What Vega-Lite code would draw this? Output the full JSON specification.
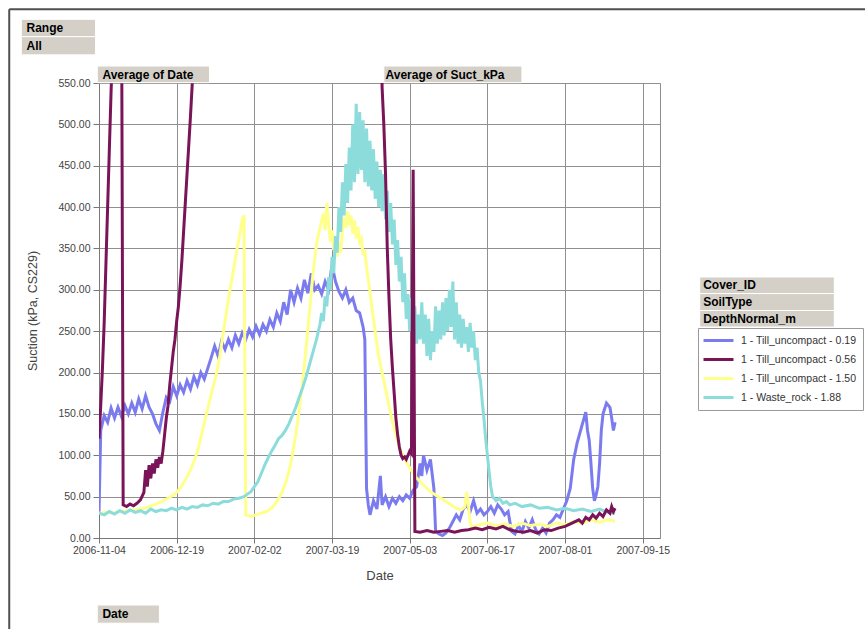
{
"$schema":"https://vega.github.io/schema/vega-lite/v6.json",
"width":561,"height":455,
"autosize":"none",
"padding":{"left":99,"top":83,"right":205,"bottom":91},
"background":"white",
"config":{
 "font":"Liberation Sans",
 "view":{"stroke":"#8c8c8c","strokeWidth":1},
 "axis":{"gridColor":"#909090","gridWidth":1,"gridOpacity":1,"domainColor":"#777777","tickColor":"#777777","labelColor":"#444444","titleColor":"#444444","labelFont":"Liberation Sans","titleFont":"Liberation Sans","titleFontWeight":"normal","labelFontSize":10.5,"titleFontSize":12.5}
},
"datasets":{"suction":[
{"k":"0.19","d":"2006-11-04","v":30},{"k":"0.19","d":"2006-11-05","v":130},{"k":"0.19","d":"2006-11-07","v":148},{"k":"0.19","d":"2006-11-09","v":140},{"k":"0.19","d":"2006-11-11","v":157},{"k":"0.19","d":"2006-11-13","v":145},{"k":"0.19","d":"2006-11-15","v":158},{"k":"0.19","d":"2006-11-17","v":147},{"k":"0.19","d":"2006-11-19","v":160},{"k":"0.19","d":"2006-11-21","v":150},{"k":"0.19","d":"2006-11-23","v":163},{"k":"0.19","d":"2006-11-25","v":152},{"k":"0.19","d":"2006-11-27","v":168},{"k":"0.19","d":"2006-11-29","v":156},{"k":"0.19","d":"2006-12-01","v":172},{"k":"0.19","d":"2006-12-03","v":158},{"k":"0.19","d":"2006-12-05","v":150},{"k":"0.19","d":"2006-12-07","v":138},{"k":"0.19","d":"2006-12-09","v":130},{"k":"0.19","d":"2006-12-11","v":152},{"k":"0.19","d":"2006-12-13","v":170},{"k":"0.19","d":"2006-12-15","v":165},{"k":"0.19","d":"2006-12-17","v":183},{"k":"0.19","d":"2006-12-19","v":172},{"k":"0.19","d":"2006-12-21","v":185},{"k":"0.19","d":"2006-12-23","v":176},{"k":"0.19","d":"2006-12-25","v":190},{"k":"0.19","d":"2006-12-27","v":180},{"k":"0.19","d":"2006-12-29","v":195},{"k":"0.19","d":"2006-12-31","v":185},{"k":"0.19","d":"2007-01-02","v":200},{"k":"0.19","d":"2007-01-04","v":192},{"k":"0.19","d":"2007-01-06","v":205},{"k":"0.19","d":"2007-01-08","v":218},{"k":"0.19","d":"2007-01-10","v":232},{"k":"0.19","d":"2007-01-12","v":220},{"k":"0.19","d":"2007-01-14","v":238},{"k":"0.19","d":"2007-01-16","v":228},{"k":"0.19","d":"2007-01-18","v":240},{"k":"0.19","d":"2007-01-20","v":230},{"k":"0.19","d":"2007-01-22","v":245},{"k":"0.19","d":"2007-01-24","v":235},{"k":"0.19","d":"2007-01-26","v":248},{"k":"0.19","d":"2007-01-28","v":240},{"k":"0.19","d":"2007-01-30","v":252},{"k":"0.19","d":"2007-02-01","v":243},{"k":"0.19","d":"2007-02-03","v":256},{"k":"0.19","d":"2007-02-05","v":246},{"k":"0.19","d":"2007-02-07","v":258},{"k":"0.19","d":"2007-02-09","v":250},{"k":"0.19","d":"2007-02-11","v":264},{"k":"0.19","d":"2007-02-13","v":255},{"k":"0.19","d":"2007-02-15","v":272},{"k":"0.19","d":"2007-02-17","v":262},{"k":"0.19","d":"2007-02-19","v":285},{"k":"0.19","d":"2007-02-21","v":270},{"k":"0.19","d":"2007-02-23","v":300},{"k":"0.19","d":"2007-02-25","v":285},{"k":"0.19","d":"2007-02-27","v":302},{"k":"0.19","d":"2007-03-01","v":290},{"k":"0.19","d":"2007-03-03","v":312},{"k":"0.19","d":"2007-03-05","v":296},{"k":"0.19","d":"2007-03-07","v":320},{"k":"0.19","d":"2007-03-09","v":300},{"k":"0.19","d":"2007-03-11","v":305},{"k":"0.19","d":"2007-03-13","v":295},{"k":"0.19","d":"2007-03-15","v":310},{"k":"0.19","d":"2007-03-17","v":300},{"k":"0.19","d":"2007-03-19","v":330},{"k":"0.19","d":"2007-03-21","v":310},{"k":"0.19","d":"2007-03-23","v":298},{"k":"0.19","d":"2007-03-25","v":290},{"k":"0.19","d":"2007-03-27","v":300},{"k":"0.19","d":"2007-03-29","v":285},{"k":"0.19","d":"2007-03-31","v":290},{"k":"0.19","d":"2007-04-02","v":275},{"k":"0.19","d":"2007-04-04","v":272},{"k":"0.19","d":"2007-04-06","v":255},{"k":"0.19","d":"2007-04-07","v":240},{"k":"0.19","d":"2007-04-08","v":60},{"k":"0.19","d":"2007-04-09","v":40},{"k":"0.19","d":"2007-04-10","v":28},{"k":"0.19","d":"2007-04-12","v":45},{"k":"0.19","d":"2007-04-14","v":35},{"k":"0.19","d":"2007-04-16","v":75},{"k":"0.19","d":"2007-04-17","v":40},{"k":"0.19","d":"2007-04-19","v":50},{"k":"0.19","d":"2007-04-21","v":38},{"k":"0.19","d":"2007-04-23","v":48},{"k":"0.19","d":"2007-04-25","v":42},{"k":"0.19","d":"2007-04-27","v":50},{"k":"0.19","d":"2007-04-29","v":45},{"k":"0.19","d":"2007-05-01","v":52},{"k":"0.19","d":"2007-05-03","v":48},{"k":"0.19","d":"2007-05-05","v":58},{"k":"0.19","d":"2007-05-07","v":62},{"k":"0.19","d":"2007-05-09","v":90},{"k":"0.19","d":"2007-05-10","v":75},{"k":"0.19","d":"2007-05-11","v":100},{"k":"0.19","d":"2007-05-13","v":82},{"k":"0.19","d":"2007-05-15","v":95},{"k":"0.19","d":"2007-05-17","v":60},{"k":"0.19","d":"2007-05-18","v":8},{"k":"0.19","d":"2007-05-20","v":5},{"k":"0.19","d":"2007-05-22","v":3},{"k":"0.19","d":"2007-05-24","v":6},{"k":"0.19","d":"2007-05-26","v":12},{"k":"0.19","d":"2007-05-28","v":20},{"k":"0.19","d":"2007-05-30","v":28},{"k":"0.19","d":"2007-06-01","v":22},{"k":"0.19","d":"2007-06-03","v":35},{"k":"0.19","d":"2007-06-05","v":40},{"k":"0.19","d":"2007-06-07","v":32},{"k":"0.19","d":"2007-06-09","v":45},{"k":"0.19","d":"2007-06-11","v":30},{"k":"0.19","d":"2007-06-13","v":35},{"k":"0.19","d":"2007-06-15","v":28},{"k":"0.19","d":"2007-06-17","v":32},{"k":"0.19","d":"2007-06-19","v":38},{"k":"0.19","d":"2007-06-21","v":30},{"k":"0.19","d":"2007-06-23","v":40},{"k":"0.19","d":"2007-06-25","v":35},{"k":"0.19","d":"2007-06-27","v":28},{"k":"0.19","d":"2007-06-29","v":32},{"k":"0.19","d":"2007-07-01","v":8},{"k":"0.19","d":"2007-07-03","v":5},{"k":"0.19","d":"2007-07-05","v":15},{"k":"0.19","d":"2007-07-07","v":8},{"k":"0.19","d":"2007-07-09","v":20},{"k":"0.19","d":"2007-07-11","v":12},{"k":"0.19","d":"2007-07-13","v":22},{"k":"0.19","d":"2007-07-15","v":10},{"k":"0.19","d":"2007-07-17","v":5},{"k":"0.19","d":"2007-07-19","v":12},{"k":"0.19","d":"2007-07-21","v":6},{"k":"0.19","d":"2007-07-23","v":18},{"k":"0.19","d":"2007-07-25","v":22},{"k":"0.19","d":"2007-07-27","v":28},{"k":"0.19","d":"2007-07-29","v":25},{"k":"0.19","d":"2007-07-31","v":35},{"k":"0.19","d":"2007-08-02","v":45},{"k":"0.19","d":"2007-08-04","v":60},{"k":"0.19","d":"2007-08-06","v":95},{"k":"0.19","d":"2007-08-08","v":115},{"k":"0.19","d":"2007-08-10","v":130},{"k":"0.19","d":"2007-08-12","v":145},{"k":"0.19","d":"2007-08-13","v":152},{"k":"0.19","d":"2007-08-14","v":130},{"k":"0.19","d":"2007-08-15","v":118},{"k":"0.19","d":"2007-08-16","v":90},{"k":"0.19","d":"2007-08-17","v":60},{"k":"0.19","d":"2007-08-18","v":45},{"k":"0.19","d":"2007-08-19","v":52},{"k":"0.19","d":"2007-08-20","v":62},{"k":"0.19","d":"2007-08-21","v":90},{"k":"0.19","d":"2007-08-22","v":130},{"k":"0.19","d":"2007-08-23","v":150},{"k":"0.19","d":"2007-08-25","v":163},{"k":"0.19","d":"2007-08-27","v":158},{"k":"0.19","d":"2007-08-28","v":145},{"k":"0.19","d":"2007-08-29","v":130},{"k":"0.19","d":"2007-08-30","v":140},
{"k":"0.56","d":"2006-11-04","v":120},{"k":"0.56","d":"2006-11-05","v":160},{"k":"0.56","d":"2006-11-06","v":205},{"k":"0.56","d":"2006-11-07","v":260},{"k":"0.56","d":"2006-11-08","v":330},{"k":"0.56","d":"2006-11-09","v":400},{"k":"0.56","d":"2006-11-10","v":470},{"k":"0.56","d":"2006-11-11","v":540},{"k":"0.56","d":"2006-11-12","v":600},{"k":"0.56","d":"2006-11-16","v":700},{"k":"0.56","d":"2006-11-17","v":700},{"k":"0.56","d":"2006-11-18","v":40},{"k":"0.56","d":"2006-11-20","v":38},{"k":"0.56","d":"2006-11-22","v":41},{"k":"0.56","d":"2006-11-24","v":39},{"k":"0.56","d":"2006-11-26","v":42},{"k":"0.56","d":"2006-11-28","v":46},{"k":"0.56","d":"2006-11-30","v":55},{"k":"0.56","d":"2006-12-01","v":82},{"k":"0.56","d":"2006-12-02","v":62},{"k":"0.56","d":"2006-12-03","v":88},{"k":"0.56","d":"2006-12-04","v":72},{"k":"0.56","d":"2006-12-05","v":90},{"k":"0.56","d":"2006-12-06","v":78},{"k":"0.56","d":"2006-12-07","v":95},{"k":"0.56","d":"2006-12-08","v":85},{"k":"0.56","d":"2006-12-09","v":98},{"k":"0.56","d":"2006-12-10","v":90},{"k":"0.56","d":"2006-12-11","v":105},{"k":"0.56","d":"2006-12-12","v":125},{"k":"0.56","d":"2006-12-13","v":145},{"k":"0.56","d":"2006-12-14","v":160},{"k":"0.56","d":"2006-12-15","v":185},{"k":"0.56","d":"2006-12-16","v":205},{"k":"0.56","d":"2006-12-17","v":225},{"k":"0.56","d":"2006-12-18","v":240},{"k":"0.56","d":"2006-12-19","v":262},{"k":"0.56","d":"2006-12-20","v":280},{"k":"0.56","d":"2006-12-21","v":305},{"k":"0.56","d":"2006-12-22","v":335},{"k":"0.56","d":"2006-12-23","v":370},{"k":"0.56","d":"2006-12-24","v":405},{"k":"0.56","d":"2006-12-25","v":440},{"k":"0.56","d":"2006-12-26","v":475},{"k":"0.56","d":"2006-12-27","v":510},{"k":"0.56","d":"2006-12-28","v":548},{"k":"0.56","d":"2006-12-29","v":590},{"k":"0.56","d":"2006-12-31","v":700},{"k":"0.56","d":"2007-04-16","v":700},{"k":"0.56","d":"2007-04-17","v":545},{"k":"0.56","d":"2007-04-18","v":500},{"k":"0.56","d":"2007-04-19","v":440},{"k":"0.56","d":"2007-04-20","v":350},{"k":"0.56","d":"2007-04-21","v":290},{"k":"0.56","d":"2007-04-22","v":240},{"k":"0.56","d":"2007-04-23","v":205},{"k":"0.56","d":"2007-04-24","v":175},{"k":"0.56","d":"2007-04-25","v":145},{"k":"0.56","d":"2007-04-26","v":125},{"k":"0.56","d":"2007-04-27","v":110},{"k":"0.56","d":"2007-04-28","v":100},{"k":"0.56","d":"2007-04-29","v":96},{"k":"0.56","d":"2007-04-30","v":98},{"k":"0.56","d":"2007-05-01","v":95},{"k":"0.56","d":"2007-05-02","v":100},{"k":"0.56","d":"2007-05-03","v":105},{"k":"0.56","d":"2007-05-04","v":102},{"k":"0.56","d":"2007-05-05","v":445},{"k":"0.56","d":"2007-05-06","v":8},{"k":"0.56","d":"2007-05-09","v":7},{"k":"0.56","d":"2007-05-13","v":9},{"k":"0.56","d":"2007-05-17","v":7},{"k":"0.56","d":"2007-05-21","v":8},{"k":"0.56","d":"2007-05-25","v":9},{"k":"0.56","d":"2007-05-29","v":7},{"k":"0.56","d":"2007-06-02","v":9},{"k":"0.56","d":"2007-06-06","v":10},{"k":"0.56","d":"2007-06-10","v":12},{"k":"0.56","d":"2007-06-14","v":10},{"k":"0.56","d":"2007-06-18","v":13},{"k":"0.56","d":"2007-06-22","v":11},{"k":"0.56","d":"2007-06-26","v":14},{"k":"0.56","d":"2007-06-30","v":10},{"k":"0.56","d":"2007-07-04","v":8},{"k":"0.56","d":"2007-07-08","v":7},{"k":"0.56","d":"2007-07-12","v":9},{"k":"0.56","d":"2007-07-16","v":6},{"k":"0.56","d":"2007-07-20","v":10},{"k":"0.56","d":"2007-07-24","v":9},{"k":"0.56","d":"2007-07-28","v":12},{"k":"0.56","d":"2007-08-01","v":14},{"k":"0.56","d":"2007-08-05","v":18},{"k":"0.56","d":"2007-08-09","v":22},{"k":"0.56","d":"2007-08-11","v":18},{"k":"0.56","d":"2007-08-13","v":25},{"k":"0.56","d":"2007-08-15","v":22},{"k":"0.56","d":"2007-08-17","v":28},{"k":"0.56","d":"2007-08-19","v":24},{"k":"0.56","d":"2007-08-21","v":30},{"k":"0.56","d":"2007-08-23","v":26},{"k":"0.56","d":"2007-08-25","v":34},{"k":"0.56","d":"2007-08-27","v":30},{"k":"0.56","d":"2007-08-28","v":38},{"k":"0.56","d":"2007-08-29","v":32},{"k":"0.56","d":"2007-08-30","v":36},
{"k":"1.50","d":"2006-11-04","v":30},{"k":"1.50","d":"2006-11-08","v":31},{"k":"1.50","d":"2006-11-12","v":30},{"k":"1.50","d":"2006-11-16","v":32},{"k":"1.50","d":"2006-11-20","v":33},{"k":"1.50","d":"2006-11-24","v":34},{"k":"1.50","d":"2006-11-28","v":35},{"k":"1.50","d":"2006-12-02","v":37},{"k":"1.50","d":"2006-12-06","v":40},{"k":"1.50","d":"2006-12-10","v":44},{"k":"1.50","d":"2006-12-14","v":48},{"k":"1.50","d":"2006-12-18","v":53},{"k":"1.50","d":"2006-12-21","v":60},{"k":"1.50","d":"2006-12-24","v":70},{"k":"1.50","d":"2006-12-27","v":82},{"k":"1.50","d":"2006-12-30","v":98},{"k":"1.50","d":"2007-01-01","v":112},{"k":"1.50","d":"2007-01-03","v":130},{"k":"1.50","d":"2007-01-05","v":148},{"k":"1.50","d":"2007-01-07","v":165},{"k":"1.50","d":"2007-01-09","v":182},{"k":"1.50","d":"2007-01-11","v":198},{"k":"1.50","d":"2007-01-13","v":220},{"k":"1.50","d":"2007-01-15","v":248},{"k":"1.50","d":"2007-01-17","v":275},{"k":"1.50","d":"2007-01-19","v":302},{"k":"1.50","d":"2007-01-21","v":325},{"k":"1.50","d":"2007-01-23","v":350},{"k":"1.50","d":"2007-01-25","v":372},{"k":"1.50","d":"2007-01-26","v":385},{"k":"1.50","d":"2007-01-27","v":390},{"k":"1.50","d":"2007-01-28","v":28},{"k":"1.50","d":"2007-01-31","v":26},{"k":"1.50","d":"2007-02-03","v":28},{"k":"1.50","d":"2007-02-06","v":30},{"k":"1.50","d":"2007-02-09","v":32},{"k":"1.50","d":"2007-02-12","v":36},{"k":"1.50","d":"2007-02-15","v":44},{"k":"1.50","d":"2007-02-18","v":55},{"k":"1.50","d":"2007-02-20","v":66},{"k":"1.50","d":"2007-02-22","v":80},{"k":"1.50","d":"2007-02-24","v":100},{"k":"1.50","d":"2007-02-26","v":125},{"k":"1.50","d":"2007-02-28","v":155},{"k":"1.50","d":"2007-03-02","v":190},{"k":"1.50","d":"2007-03-04","v":230},{"k":"1.50","d":"2007-03-06","v":275},{"k":"1.50","d":"2007-03-08","v":320},{"k":"1.50","d":"2007-03-10","v":355},{"k":"1.50","d":"2007-03-12","v":375},{"k":"1.50","d":"2007-03-14","v":392},{"k":"1.50","d":"2007-03-15","v":372},{"k":"1.50","d":"2007-03-16","v":405},{"k":"1.50","d":"2007-03-17","v":382},{"k":"1.50","d":"2007-03-18","v":358},{"k":"1.50","d":"2007-03-19","v":372},{"k":"1.50","d":"2007-03-20","v":348},{"k":"1.50","d":"2007-03-21","v":362},{"k":"1.50","d":"2007-03-22","v":340},{"k":"1.50","d":"2007-03-23","v":358},{"k":"1.50","d":"2007-03-24","v":345},{"k":"1.50","d":"2007-03-25","v":370},{"k":"1.50","d":"2007-03-26","v":388},{"k":"1.50","d":"2007-03-27","v":375},{"k":"1.50","d":"2007-03-28","v":395},{"k":"1.50","d":"2007-03-29","v":378},{"k":"1.50","d":"2007-03-30","v":390},{"k":"1.50","d":"2007-03-31","v":368},{"k":"1.50","d":"2007-04-01","v":384},{"k":"1.50","d":"2007-04-02","v":362},{"k":"1.50","d":"2007-04-03","v":376},{"k":"1.50","d":"2007-04-04","v":358},{"k":"1.50","d":"2007-04-05","v":362},{"k":"1.50","d":"2007-04-06","v":342},{"k":"1.50","d":"2007-04-07","v":348},{"k":"1.50","d":"2007-04-08","v":328},{"k":"1.50","d":"2007-04-09","v":312},{"k":"1.50","d":"2007-04-10","v":298},{"k":"1.50","d":"2007-04-11","v":280},{"k":"1.50","d":"2007-04-12","v":265},{"k":"1.50","d":"2007-04-13","v":250},{"k":"1.50","d":"2007-04-14","v":235},{"k":"1.50","d":"2007-04-15","v":220},{"k":"1.50","d":"2007-04-17","v":200},{"k":"1.50","d":"2007-04-19","v":180},{"k":"1.50","d":"2007-04-21","v":160},{"k":"1.50","d":"2007-04-23","v":140},{"k":"1.50","d":"2007-04-25","v":125},{"k":"1.50","d":"2007-04-27","v":110},{"k":"1.50","d":"2007-04-29","v":100},{"k":"1.50","d":"2007-05-01","v":92},{"k":"1.50","d":"2007-05-03","v":85},{"k":"1.50","d":"2007-05-06","v":75},{"k":"1.50","d":"2007-05-09","v":68},{"k":"1.50","d":"2007-05-12","v":62},{"k":"1.50","d":"2007-05-15","v":56},{"k":"1.50","d":"2007-05-18","v":52},{"k":"1.50","d":"2007-05-21","v":48},{"k":"1.50","d":"2007-05-24","v":44},{"k":"1.50","d":"2007-05-27","v":40},{"k":"1.50","d":"2007-05-30","v":36},{"k":"1.50","d":"2007-06-02","v":34},{"k":"1.50","d":"2007-06-04","v":38},{"k":"1.50","d":"2007-06-05","v":56},{"k":"1.50","d":"2007-06-06","v":40},{"k":"1.50","d":"2007-06-07","v":20},{"k":"1.50","d":"2007-06-08","v":12},{"k":"1.50","d":"2007-06-10","v":14},{"k":"1.50","d":"2007-06-12","v":16},{"k":"1.50","d":"2007-06-17","v":18},{"k":"1.50","d":"2007-06-22","v":15},{"k":"1.50","d":"2007-06-27","v":17},{"k":"1.50","d":"2007-07-02","v":14},{"k":"1.50","d":"2007-07-07","v":18},{"k":"1.50","d":"2007-07-12","v":15},{"k":"1.50","d":"2007-07-17","v":17},{"k":"1.50","d":"2007-07-22","v":14},{"k":"1.50","d":"2007-07-27","v":18},{"k":"1.50","d":"2007-08-01","v":16},{"k":"1.50","d":"2007-08-06","v":20},{"k":"1.50","d":"2007-08-11","v":18},{"k":"1.50","d":"2007-08-16","v":22},{"k":"1.50","d":"2007-08-21","v":19},{"k":"1.50","d":"2007-08-26","v":22},{"k":"1.50","d":"2007-08-30","v":20},
{"k":"1.88","d":"2006-11-04","v":30},{"k":"1.88","d":"2006-11-07","v":28},{"k":"1.88","d":"2006-11-10","v":32},{"k":"1.88","d":"2006-11-13","v":29},{"k":"1.88","d":"2006-11-16","v":33},{"k":"1.88","d":"2006-11-19","v":30},{"k":"1.88","d":"2006-11-22","v":34},{"k":"1.88","d":"2006-11-25","v":31},{"k":"1.88","d":"2006-11-28","v":33},{"k":"1.88","d":"2006-12-01","v":30},{"k":"1.88","d":"2006-12-04","v":35},{"k":"1.88","d":"2006-12-07","v":32},{"k":"1.88","d":"2006-12-10","v":34},{"k":"1.88","d":"2006-12-13","v":33},{"k":"1.88","d":"2006-12-16","v":36},{"k":"1.88","d":"2006-12-19","v":34},{"k":"1.88","d":"2006-12-22","v":37},{"k":"1.88","d":"2006-12-25","v":35},{"k":"1.88","d":"2006-12-28","v":38},{"k":"1.88","d":"2006-12-31","v":37},{"k":"1.88","d":"2007-01-03","v":40},{"k":"1.88","d":"2007-01-06","v":39},{"k":"1.88","d":"2007-01-09","v":42},{"k":"1.88","d":"2007-01-12","v":41},{"k":"1.88","d":"2007-01-15","v":44},{"k":"1.88","d":"2007-01-18","v":44},{"k":"1.88","d":"2007-01-21","v":47},{"k":"1.88","d":"2007-01-24","v":48},{"k":"1.88","d":"2007-01-27","v":50},{"k":"1.88","d":"2007-01-29","v":53},{"k":"1.88","d":"2007-01-31","v":56},{"k":"1.88","d":"2007-02-02","v":62},{"k":"1.88","d":"2007-02-04","v":68},{"k":"1.88","d":"2007-02-06","v":78},{"k":"1.88","d":"2007-02-08","v":88},{"k":"1.88","d":"2007-02-10","v":97},{"k":"1.88","d":"2007-02-12","v":105},{"k":"1.88","d":"2007-02-14","v":112},{"k":"1.88","d":"2007-02-16","v":120},{"k":"1.88","d":"2007-02-18","v":124},{"k":"1.88","d":"2007-02-20","v":130},{"k":"1.88","d":"2007-02-22","v":138},{"k":"1.88","d":"2007-02-24","v":148},{"k":"1.88","d":"2007-02-26","v":158},{"k":"1.88","d":"2007-02-28","v":170},{"k":"1.88","d":"2007-03-02","v":182},{"k":"1.88","d":"2007-03-04","v":195},{"k":"1.88","d":"2007-03-06","v":210},{"k":"1.88","d":"2007-03-08","v":225},{"k":"1.88","d":"2007-03-10","v":240},{"k":"1.88","d":"2007-03-12","v":258},{"k":"1.88","d":"2007-03-13","v":272},{"k":"1.88","d":"2007-03-14","v":262},{"k":"1.88","d":"2007-03-15","v":292},{"k":"1.88","d":"2007-03-16","v":280},{"k":"1.88","d":"2007-03-17","v":315},{"k":"1.88","d":"2007-03-18","v":300},{"k":"1.88","d":"2007-03-19","v":340},{"k":"1.88","d":"2007-03-20","v":320},{"k":"1.88","d":"2007-03-21","v":365},{"k":"1.88","d":"2007-03-22","v":345},{"k":"1.88","d":"2007-03-23","v":400},{"k":"1.88","d":"2007-03-24","v":370},{"k":"1.88","d":"2007-03-25","v":430},{"k":"1.88","d":"2007-03-26","v":390},{"k":"1.88","d":"2007-03-27","v":452},{"k":"1.88","d":"2007-03-28","v":405},{"k":"1.88","d":"2007-03-29","v":472},{"k":"1.88","d":"2007-03-30","v":420},{"k":"1.88","d":"2007-03-31","v":500},{"k":"1.88","d":"2007-04-01","v":430},{"k":"1.88","d":"2007-04-02","v":525},{"k":"1.88","d":"2007-04-03","v":440},{"k":"1.88","d":"2007-04-04","v":515},{"k":"1.88","d":"2007-04-05","v":445},{"k":"1.88","d":"2007-04-06","v":505},{"k":"1.88","d":"2007-04-07","v":430},{"k":"1.88","d":"2007-04-08","v":495},{"k":"1.88","d":"2007-04-09","v":425},{"k":"1.88","d":"2007-04-10","v":480},{"k":"1.88","d":"2007-04-11","v":420},{"k":"1.88","d":"2007-04-12","v":470},{"k":"1.88","d":"2007-04-13","v":410},{"k":"1.88","d":"2007-04-14","v":455},{"k":"1.88","d":"2007-04-15","v":400},{"k":"1.88","d":"2007-04-16","v":445},{"k":"1.88","d":"2007-04-17","v":395},{"k":"1.88","d":"2007-04-18","v":440},{"k":"1.88","d":"2007-04-19","v":385},{"k":"1.88","d":"2007-04-20","v":420},{"k":"1.88","d":"2007-04-21","v":370},{"k":"1.88","d":"2007-04-22","v":405},{"k":"1.88","d":"2007-04-23","v":355},{"k":"1.88","d":"2007-04-24","v":385},{"k":"1.88","d":"2007-04-25","v":330},{"k":"1.88","d":"2007-04-26","v":360},{"k":"1.88","d":"2007-04-27","v":310},{"k":"1.88","d":"2007-04-28","v":340},{"k":"1.88","d":"2007-04-29","v":285},{"k":"1.88","d":"2007-04-30","v":320},{"k":"1.88","d":"2007-05-01","v":265},{"k":"1.88","d":"2007-05-02","v":295},{"k":"1.88","d":"2007-05-03","v":250},{"k":"1.88","d":"2007-05-04","v":290},{"k":"1.88","d":"2007-05-05","v":240},{"k":"1.88","d":"2007-05-06","v":280},{"k":"1.88","d":"2007-05-07","v":235},{"k":"1.88","d":"2007-05-08","v":270},{"k":"1.88","d":"2007-05-09","v":240},{"k":"1.88","d":"2007-05-10","v":285},{"k":"1.88","d":"2007-05-11","v":235},{"k":"1.88","d":"2007-05-12","v":270},{"k":"1.88","d":"2007-05-13","v":220},{"k":"1.88","d":"2007-05-14","v":265},{"k":"1.88","d":"2007-05-15","v":215},{"k":"1.88","d":"2007-05-16","v":250},{"k":"1.88","d":"2007-05-17","v":225},{"k":"1.88","d":"2007-05-18","v":280},{"k":"1.88","d":"2007-05-19","v":235},{"k":"1.88","d":"2007-05-20","v":275},{"k":"1.88","d":"2007-05-21","v":240},{"k":"1.88","d":"2007-05-22","v":285},{"k":"1.88","d":"2007-05-23","v":245},{"k":"1.88","d":"2007-05-24","v":290},{"k":"1.88","d":"2007-05-25","v":250},{"k":"1.88","d":"2007-05-26","v":300},{"k":"1.88","d":"2007-05-27","v":255},{"k":"1.88","d":"2007-05-28","v":310},{"k":"1.88","d":"2007-05-29","v":240},{"k":"1.88","d":"2007-05-30","v":285},{"k":"1.88","d":"2007-05-31","v":235},{"k":"1.88","d":"2007-06-01","v":270},{"k":"1.88","d":"2007-06-02","v":230},{"k":"1.88","d":"2007-06-03","v":265},{"k":"1.88","d":"2007-06-04","v":235},{"k":"1.88","d":"2007-06-05","v":255},{"k":"1.88","d":"2007-06-06","v":225},{"k":"1.88","d":"2007-06-07","v":260},{"k":"1.88","d":"2007-06-08","v":230},{"k":"1.88","d":"2007-06-09","v":250},{"k":"1.88","d":"2007-06-10","v":215},{"k":"1.88","d":"2007-06-11","v":230},{"k":"1.88","d":"2007-06-12","v":200},{"k":"1.88","d":"2007-06-13","v":190},{"k":"1.88","d":"2007-06-14","v":165},{"k":"1.88","d":"2007-06-15","v":145},{"k":"1.88","d":"2007-06-16","v":120},{"k":"1.88","d":"2007-06-17","v":100},{"k":"1.88","d":"2007-06-18","v":80},{"k":"1.88","d":"2007-06-19","v":62},{"k":"1.88","d":"2007-06-20","v":50},{"k":"1.88","d":"2007-06-22","v":45},{"k":"1.88","d":"2007-06-24","v":48},{"k":"1.88","d":"2007-06-26","v":42},{"k":"1.88","d":"2007-06-28","v":44},{"k":"1.88","d":"2007-06-30","v":40},{"k":"1.88","d":"2007-07-03","v":42},{"k":"1.88","d":"2007-07-07","v":38},{"k":"1.88","d":"2007-07-12","v":40},{"k":"1.88","d":"2007-07-17","v":36},{"k":"1.88","d":"2007-07-22","v":37},{"k":"1.88","d":"2007-07-27","v":34},{"k":"1.88","d":"2007-08-01","v":36},{"k":"1.88","d":"2007-08-06","v":33},{"k":"1.88","d":"2007-08-11","v":35},{"k":"1.88","d":"2007-08-16","v":32},{"k":"1.88","d":"2007-08-21","v":35},{"k":"1.88","d":"2007-08-26","v":31},{"k":"1.88","d":"2007-08-30","v":30}
]},
"layer":[
 {"data":{"values":[{}]},"mark":{"type":"rule","stroke":"#505050","strokeWidth":2},"encoding":{"x":{"datum":{"year":2006,"month":9,"date":13,"utc":true}},"x2":{"datum":{"year":2008,"month":3,"date":1,"utc":true}},"y":{"datum":639}}},
 {"data":{"values":[{}]},"mark":{"type":"rule","stroke":"#505050","strokeWidth":2},"encoding":{"x":{"datum":{"year":2006,"month":9,"date":13,"utc":true}},"y":{"datum":639},"y2":{"datum":-140}}},
 {
  "data":{"name":"suction"},
  "encoding":{
   "x":{"field":"d","type":"temporal","title":"Date",
     "scale":{"type":"utc","domain":[{"year":2006,"month":11,"date":4,"utc":true},{"year":2007,"month":9,"date":25,"utc":true}],"nice":false},
     "axis":{"values":[{"year":2006,"month":11,"date":4,"utc":true},{"year":2006,"month":12,"date":19,"utc":true},{"year":2007,"month":2,"date":2,"utc":true},{"year":2007,"month":3,"date":19,"utc":true},{"year":2007,"month":5,"date":3,"utc":true},{"year":2007,"month":6,"date":17,"utc":true},{"year":2007,"month":8,"date":1,"utc":true},{"year":2007,"month":9,"date":15,"utc":true}],
       "format":"%Y-%m-%d","labelFlush":false,"labelOverlap":false,"tickSize":5,"labelPadding":2,"titlePadding":14,"titleFontSize":13,"grid":true}},
   "y":{"field":"v","type":"quantitative","title":"Suction (kPa, CS229)",
     "scale":{"domain":[0,550],"nice":false,"zero":true},
     "axis":{"values":[0,50,100,150,200,250,300,350,400,450,500,550],"format":".2f","tickSize":6,"labelPadding":3,"titlePadding":18,"grid":true}},
   "color":{"field":"k","type":"nominal",
     "scale":{"domain":["0.19","0.56","1.50","1.88"],"range":["#7b7bf0","#7a1458","#ffff8c","#8cdcdc"]},
     "legend":{"orient":"none","legendX":599,"legendY":245,"title":null,"direction":"vertical","padding":6,"fillColor":"white","strokeColor":"#9a9a9a","symbolType":"M-3,0H3","symbolSize":100,"symbolStrokeWidth":3,"symbolOffset":8,"labelFontSize":10.5,"labelColor":"#333333","labelFont":"Liberation Sans","rowPadding":6,"labelOffset":16,
       "labelExpr":"datum.label == '1.88' ? '1 - Waste_rock - 1.88' : '1 - Till_uncompact - ' + datum.label"}}
  },
  "layer":[
   {"transform":[{"filter":"datum.k == '0.19'"}],"mark":{"type":"line","clip":true,"strokeWidth":3}},
   {"transform":[{"filter":"datum.k == '1.50'"}],"mark":{"type":"line","clip":true,"strokeWidth":3}},
   {"transform":[{"filter":"datum.k == '1.88'"}],"mark":{"type":"line","clip":true,"strokeWidth":3}},
   {"transform":[{"filter":"datum.k == '0.56'"}],"mark":{"type":"line","clip":true,"strokeWidth":3}}
  ]
 },
 {"data":{"values":[{}]},"mark":{"type":"rect","fill":"#d4d0c8","stroke":"#ffffff","strokeWidth":1},"encoding":{"x":{"datum":{"year":2006,"month":9,"date":20,"utc":true}},"x2":{"datum":{"year":2006,"month":11,"date":2,"utc":true}},"y":{"datum":606},"y2":{"datum":627}}},
 {"data":{"values":[{}]},"mark":{"type":"rect","fill":"#d4d0c8","stroke":"#ffffff","strokeWidth":1},"encoding":{"x":{"datum":{"year":2006,"month":9,"date":20,"utc":true}},"x2":{"datum":{"year":2006,"month":11,"date":2,"utc":true}},"y":{"datum":584},"y2":{"datum":606}}},
 {"data":{"values":[{}]},"mark":{"type":"rect","fill":"#d4d0c8","stroke":"#ffffff","strokeWidth":1},"encoding":{"x":{"datum":{"year":2006,"month":11,"date":3,"utc":true}},"x2":{"datum":{"year":2007,"month":1,"date":7,"utc":true}},"y":{"datum":550.4},"y2":{"datum":570.5}}},
 {"data":{"values":[{}]},"mark":{"type":"rect","fill":"#d4d0c8","stroke":"#ffffff","strokeWidth":1},"encoding":{"x":{"datum":{"year":2007,"month":4,"date":18,"utc":true}},"x2":{"datum":{"year":2007,"month":7,"date":7,"utc":true}},"y":{"datum":550.4},"y2":{"datum":570.5}}},
 {"data":{"values":[{}]},"mark":{"type":"rect","fill":"#d4d0c8","stroke":"#ffffff","strokeWidth":1},"encoding":{"x":{"datum":{"year":2006,"month":11,"date":3,"utc":true}},"x2":{"datum":{"year":2006,"month":12,"date":9,"utc":true}},"y":{"datum":-103},"y2":{"datum":-81}}},
 {"data":{"values":[{}]},"mark":{"type":"rect","fill":"#d4d0c8","stroke":"#ffffff","strokeWidth":1},"encoding":{"x":{"datum":{"year":2007,"month":10,"date":18,"utc":true}},"x2":{"datum":{"year":2008,"month":1,"date":4,"utc":true}},"y":{"datum":295.5},"y2":{"datum":315.5}}},
 {"data":{"values":[{}]},"mark":{"type":"rect","fill":"#d4d0c8","stroke":"#ffffff","strokeWidth":1},"encoding":{"x":{"datum":{"year":2007,"month":10,"date":18,"utc":true}},"x2":{"datum":{"year":2008,"month":1,"date":4,"utc":true}},"y":{"datum":275}, "y2":{"datum":295.5}}},
 {"data":{"values":[{}]},"mark":{"type":"rect","fill":"#d4d0c8","stroke":"#ffffff","strokeWidth":1},"encoding":{"x":{"datum":{"year":2007,"month":10,"date":18,"utc":true}},"x2":{"datum":{"year":2008,"month":1,"date":4,"utc":true}},"y":{"datum":255},"y2":{"datum":275}}},
 {"data":{"values":[{}]},"mark":{"type":"text","text":"Range","align":"left","baseline":"middle","fontWeight":"bold","fontSize":12,"font":"Liberation Sans","fill":"#000000"},"encoding":{"x":{"datum":{"year":2006,"month":9,"date":23,"utc":true}},"y":{"datum":616.5}}},
 {"data":{"values":[{}]},"mark":{"type":"text","text":"All","align":"left","baseline":"middle","fontWeight":"bold","fontSize":12,"font":"Liberation Sans","fill":"#000000"},"encoding":{"x":{"datum":{"year":2006,"month":9,"date":23,"utc":true}},"y":{"datum":595}}},
 {"data":{"values":[{}]},"mark":{"type":"text","text":"Average of Date","align":"left","baseline":"middle","fontWeight":"bold","fontSize":12,"font":"Liberation Sans","fill":"#000000"},"encoding":{"x":{"datum":{"year":2006,"month":11,"date":6,"utc":true}},"y":{"datum":560}}},
 {"data":{"values":[{}]},"mark":{"type":"text","text":"Average of Suct_kPa","align":"left","baseline":"middle","fontWeight":"bold","fontSize":12,"font":"Liberation Sans","fill":"#000000"},"encoding":{"x":{"datum":{"year":2007,"month":4,"date":19,"utc":true}},"y":{"datum":560}}},
 {"data":{"values":[{}]},"mark":{"type":"text","text":"Date","align":"left","baseline":"middle","fontWeight":"bold","fontSize":12,"font":"Liberation Sans","fill":"#000000"},"encoding":{"x":{"datum":{"year":2006,"month":11,"date":6,"utc":true}},"y":{"datum":-92}}},
 {"data":{"values":[{}]},"mark":{"type":"text","text":"Cover_ID","align":"left","baseline":"middle","fontWeight":"bold","fontSize":12,"font":"Liberation Sans","fill":"#000000"},"encoding":{"x":{"datum":{"year":2007,"month":10,"date":20,"utc":true}},"y":{"datum":305.5}}},
 {"data":{"values":[{}]},"mark":{"type":"text","text":"SoilType","align":"left","baseline":"middle","fontWeight":"bold","fontSize":12,"font":"Liberation Sans","fill":"#000000"},"encoding":{"x":{"datum":{"year":2007,"month":10,"date":20,"utc":true}},"y":{"datum":285}}},
 {"data":{"values":[{}]},"mark":{"type":"text","text":"DepthNormal_m","align":"left","baseline":"middle","fontWeight":"bold","fontSize":12,"font":"Liberation Sans","fill":"#000000"},"encoding":{"x":{"datum":{"year":2007,"month":10,"date":20,"utc":true}},"y":{"datum":265}}}
]
}
